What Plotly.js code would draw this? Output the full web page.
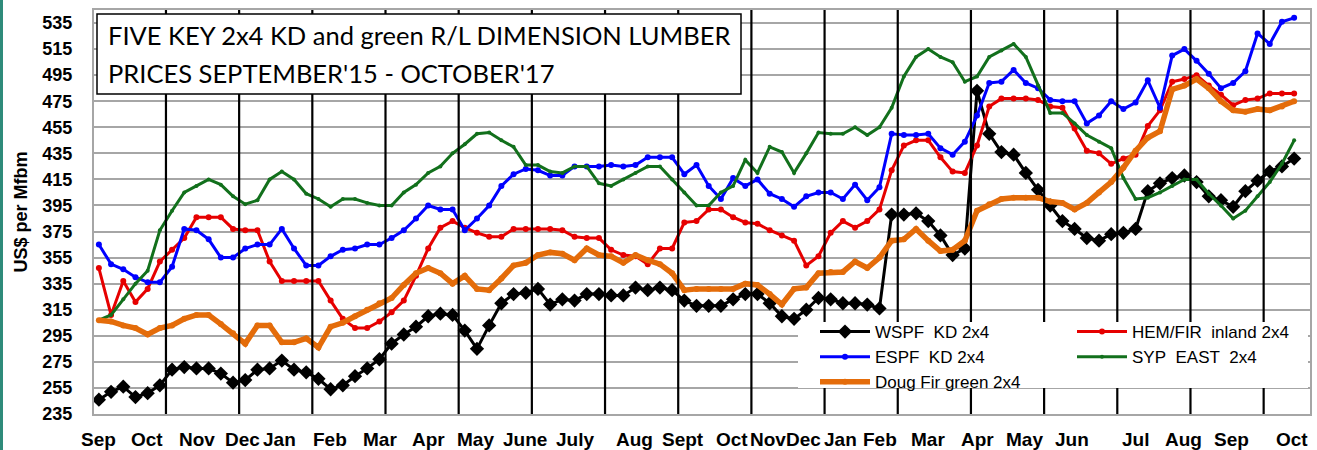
<!DOCTYPE html>
<html><head><meta charset="utf-8">
<script src="https://cdn.plot.ly/plotly-3.0.1.min.js"></script>
<style>html,body{margin:0;padding:0;background:#fff;}#chart{width:1317px;height:450px;}</style>
</head><body><div id="chart"></div>
<script>
// Weekly prices, US$ per Mfbm, Sep 2015 - Oct 2017 (99 weekly observations)
const wspf = [246,252,256,248,251,257,269,271,270,270,
  266,259,261,269,270,276,269,267,262,254,
  257,264,270,277,289,296,302,310,312,311,
  299,285,303,320,327,328,331,319,323,322,
  327,327,326,326,332,330,332,330,322,318,
  318,318,323,327,327,320,310,308,315,324,
  323,320,320,319,316,388,388,389,383,372,
  357,362,483,450,436,434,420,407,395,383,
  377,370,368,373,374,377,406,412,416,418,
  413,402,399,394,406,414,421,425,431];
const hemfir = [347,311,337,321,331,352,361,370,386,386,
  386,377,376,376,352,337,337,337,337,322,
  308,301,301,306,313,322,341,362,378,383,
  378,374,371,371,377,377,377,377,376,371,
  370,370,361,357,356,350,362,362,382,383,
  392,392,386,382,381,376,372,368,349,356,
  374,383,378,383,392,422,441,445,445,432,
  421,420,441,471,477,477,477,476,471,470,
  454,437,435,427,431,434,456,468,490,492,
  495,487,480,472,476,477,481,481,481];
const espf = [365,350,346,340,336,336,348,377,376,369,
  355,355,362,365,365,377,362,349,349,356,
  361,362,365,365,370,376,385,395,392,392,
  376,385,395,410,419,423,422,418,418,425,
  425,425,426,425,426,432,432,432,419,426,
  410,400,416,410,415,404,400,394,402,405,
  405,400,411,399,409,450,449,449,450,439,
  434,444,464,489,490,499,489,485,476,475,
  475,458,464,475,469,474,491,470,510,515,
  506,496,485,489,498,527,519,536,539];
const sypEast = [307,311,323,335,345,376,391,405,410,415,
  411,402,396,399,415,421,415,404,400,394,
  400,400,397,395,395,405,411,420,425,435,
  442,450,451,445,440,426,426,421,420,425,
  425,412,410,415,420,425,425,415,405,395,
  395,405,410,430,420,440,436,420,435,451,
  450,450,455,449,455,470,494,509,515,509,
  505,490,494,509,514,519,509,487,466,466,
  458,449,444,439,416,400,401,405,410,415,
  415,404,395,385,391,402,413,427,445];
const dougFir = [307,306,303,301,296,301,303,308,311,311,
  304,297,289,303,303,290,290,293,286,302,
  305,310,315,320,324,334,343,347,343,335,
  341,331,330,339,349,351,357,359,358,353,
  362,357,356,351,357,353,350,343,330,331,
  331,331,331,335,334,327,319,331,332,343,
  344,344,352,347,355,368,369,377,368,360,
  361,368,391,396,400,401,401,401,398,397,
  392,397,405,413,424,437,447,452,484,487,
  492,485,475,468,467,469,468,471,475];

// Month labels along the week axis (position in weeks from first observation)
const monthLabels = ['Sep','Oct','Nov','Dec','Jan','Feb','Mar','Apr','May','June','July','Aug','Sept','Oct','Nov','Dec','Jan','Feb','Mar','Apr','May','Jun','Jul','Aug','Sep','Oct'];
const monthPos = [0.0,3.95,8.05,11.8,14.8,18.95,23.05,27.0,30.9,34.9,39.05,43.95,47.9,51.9,54.9,57.75,60.8,64.07,68.0,72.0,75.9,79.8,85.0,88.9,92.9,97.8];
const yTicks = [235,255,275,295,315,335,355,375,395,415,435,455,475,495,515,535];

const weeks = wspf.map((_, i) => i);
const xRange = [-0.4, 99.3];
// vertical separator lines every 6 weeks
const separators = [];
for (let k = 1; k <= 16; k++) separators.push(-0.5 + 6 * k);

function series(name, y, color, width, symbol, size, legend) {
  return {type:'scatter', mode:'lines+markers', name:name, x:weeks, y:y,
    line:{color:color, width:width}, marker:{symbol:symbol, size:size, color:color},
    legend:legend, cliponaxis:true};
}
const data = [
  series('WSPF\u00a0 KD 2x4', wspf, '#000000', 3, 'diamond', 11, 'legend'),
  series('HEM/FIR\u00a0 inland 2x4', hemfir, '#E60000', 3, 'circle', 6, 'legend2'),
  series('ESPF\u00a0 KD 2x4', espf, '#0000FF', 3, 'circle', 6, 'legend'),
  series('SYP\u00a0 EAST\u00a0 2x4', sypEast, '#12701C', 3, 'circle', 4, 'legend2'),
  series('Doug Fir green 2x4', dougFir, '#E46C0A', 5.5, 'circle', 6, 'legend')
];

const L = 94, W = 1216, T = 10, H = 404;
const px = v => (v - L) / W;
const py = v => (T + H - v) / H;
const wx = w => (w - xRange[0]) / (xRange[1] - xRange[0]);

const shapes = separators.map(s => ({type:'line', xref:'paper', yref:'paper',
  x0:wx(s), x1:wx(s), y0:0, y1:1, line:{color:'#000', width:2.2}, layer:'above'}));
shapes.push(
  {type:'rect', xref:'paper', yref:'paper', x0:px(798), x1:px(1308), y0:py(388), y1:py(322),
   fillcolor:'#fff', line:{width:0}, layer:'above'},
  {type:'rect', xref:'paper', yref:'paper', x0:px(97), x1:px(741), y0:py(94), y1:py(14),
   fillcolor:'#fff', line:{color:'#000', width:1.5}, layer:'above'},
  {type:'line', xref:'paper', yref:'paper', x0:px(1.5), x1:px(1.5), y0:py(450), y1:py(0),
   line:{color:'#2E8B7A', width:3}, layer:'above'}
);

const boldFont = {size:19, family:'Liberation Sans, Arial, sans-serif', weight:'bold', color:'#000'};
const annotations = monthLabels.map((m, i) => ({
  xref:'x', yref:'paper', x:monthPos[i], y:py(439), xanchor:'center', yanchor:'middle',
  showarrow:false, text:m, font:boldFont
}));
annotations.push(
  {xref:'paper', yref:'paper', x:px(106), y:py(35), xanchor:'left', yanchor:'middle', showarrow:false,
   text:"FIVE KEY 2x4 KD and green R/L DIMENSION LUMBER", font:{family:'Lato, sans-serif', size:25.5, color:'#000'}},
  {xref:'paper', yref:'paper', x:px(106), y:py(72.5), xanchor:'left', yanchor:'middle', showarrow:false,
   text:"PRICES SEPTEMBER'15 - OCTOBER'17", font:{family:'Lato, sans-serif', size:25.5, color:'#000'}}
);

const layout = {
  width:1317, height:450,
  margin:{l:L, r:7, t:T, b:36},
  paper_bgcolor:'#fff', plot_bgcolor:'#fff',
  font:{family:'Liberation Sans, Arial, sans-serif', color:'#000'},
  showlegend:true,
  xaxis:{range:xRange, tickmode:'array', tickvals:separators, showticklabels:false,
    showgrid:false, zeroline:false,
    showline:true, mirror:true, linecolor:'#A6A6A6', linewidth:2, ticks:''},
  yaxis:{range:[235, 545], tickmode:'array', tickvals:yTicks,
    showgrid:true, gridcolor:'#A6A6A6', gridwidth:2, zeroline:false,
    showline:true, mirror:true, linecolor:'#A6A6A6', linewidth:2,
    ticks:'outside', ticklen:16, tickcolor:'rgba(0,0,0,0)',
    tickfont:{size:18, family:'Liberation Sans, Arial, sans-serif', weight:'bold', color:'#000'},
    title:{text:'US$ per Mfbm', standoff:10, font:{size:18, family:'Liberation Sans, Arial, sans-serif', weight:'bold', color:'#000'}}},
  legend:{x:px(815), y:py(314), xanchor:'left', yanchor:'top', bgcolor:'rgba(0,0,0,0)', borderwidth:0,
    font:{size:17, color:'#000'}, itemwidth:50, tracegroupgap:0},
  legend2:{x:px(1072), y:py(314), xanchor:'left', yanchor:'top', bgcolor:'rgba(0,0,0,0)', borderwidth:0,
    font:{size:17, color:'#000'}, itemwidth:50, tracegroupgap:0},
  shapes:shapes,
  annotations:annotations
};
Plotly.newPlot('chart', data, layout, {displayModeBar:false, staticPlot:true});
</script>
</body></html>
